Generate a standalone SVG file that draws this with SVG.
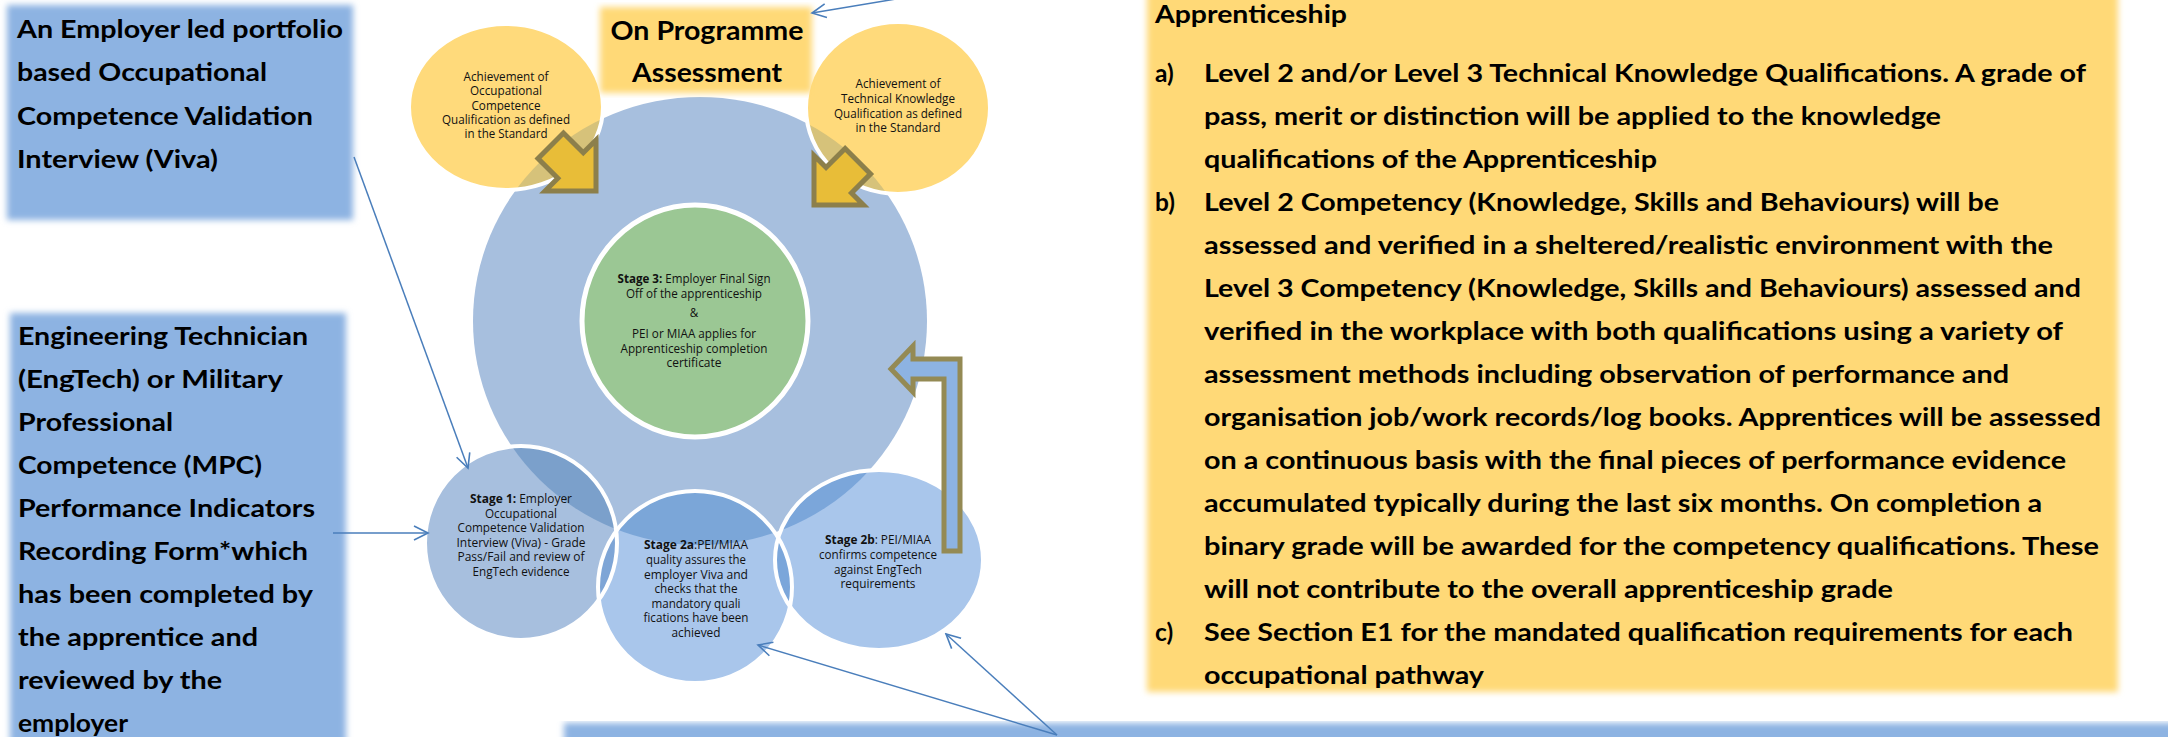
<svg xmlns="http://www.w3.org/2000/svg" width="2168" height="737" viewBox="0 0 2168 737">
<style>
  .big { font-family: Lato, 'Liberation Sans', sans-serif; font-weight: bold; font-size: 24.5px; fill: #000; }
  .title { font-family: Lato, 'Liberation Sans', sans-serif; font-weight: bold; font-size: 27px; fill: #000; text-anchor: middle; }
  .sm { font-family: 'Open Sans', 'Liberation Sans', sans-serif; font-size: 11.7px; fill: #111; text-anchor: middle; }
  .b { font-weight: bold; }
  .box { fill: #8DB3E2; filter: url(#soft); }
  .ybox { fill: #FFD977; filter: url(#soft); }
  .conn { stroke: #4A7EBB; stroke-width: 1.5; fill: none; marker-end: url(#arr); }
  .ring { fill: none; stroke: #fff; stroke-width: 4; }
  .gold { fill: #E8BD38; stroke: #8C7F4B; stroke-width: 5; stroke-linejoin: miter; }
</style>
<defs>
  <filter id="soft" x="-5%" y="-5%" width="110%" height="110%">
    <feGaussianBlur stdDeviation="3"/>
  </filter>
  <marker id="arr" markerUnits="userSpaceOnUse" markerWidth="18" markerHeight="18" viewBox="0 0 18 18" refX="16" refY="9" orient="auto">
    <path d="M2,2 L16,9 L2,16" fill="none" stroke="#4A7EBB" stroke-width="1.6"/>
  </marker>
  <clipPath id="cBig"><ellipse cx="700" cy="321" rx="227" ry="224"/></clipPath>
  <clipPath id="cS1"><ellipse cx="521" cy="543" rx="96" ry="97"/></clipPath>
  <clipPath id="cS2a"><ellipse cx="695" cy="587" rx="97" ry="96"/></clipPath>
</defs>

<rect width="2168" height="737" fill="#fff"/>

<!-- Left box 1 -->
<g id="box-viva">
  <rect class="box" x="7" y="5" width="346" height="215"/>
  <text class="big" x="17" y="37.5" textLength="326" lengthAdjust="spacingAndGlyphs">An Employer led portfolio</text>
  <text class="big" x="17" y="81" textLength="250" lengthAdjust="spacingAndGlyphs">based Occupational</text>
  <text class="big" x="17" y="124.5" textLength="296" lengthAdjust="spacingAndGlyphs">Competence Validation</text>
  <text class="big" x="17" y="168" textLength="201" lengthAdjust="spacingAndGlyphs">Interview (Viva)</text>
</g>

<!-- Left box 2 -->
<g id="box-engtech">
  <rect class="box" x="10" y="313" width="336" height="440"/>
  <text class="big" x="18" y="345" textLength="290" lengthAdjust="spacingAndGlyphs">Engineering Technician</text>
  <text class="big" x="18" y="388" textLength="265" lengthAdjust="spacingAndGlyphs">(EngTech) or Military</text>
  <text class="big" x="18" y="431" textLength="155" lengthAdjust="spacingAndGlyphs">Professional</text>
  <text class="big" x="18" y="474" textLength="244" lengthAdjust="spacingAndGlyphs">Competence (MPC)</text>
  <text class="big" x="18" y="517" textLength="297" lengthAdjust="spacingAndGlyphs">Performance Indicators</text>
  <text class="big" x="18" y="560" textLength="290" lengthAdjust="spacingAndGlyphs">Recording Form*which</text>
  <text class="big" x="18" y="603" textLength="295" lengthAdjust="spacingAndGlyphs">has been completed by</text>
  <text class="big" x="18" y="646" textLength="240" lengthAdjust="spacingAndGlyphs">the apprentice and</text>
  <text class="big" x="18" y="689" textLength="204" lengthAdjust="spacingAndGlyphs">reviewed by the</text>
  <text class="big" x="18" y="732" textLength="110" lengthAdjust="spacingAndGlyphs">employer</text>
</g>

<!-- Right panel -->
<g id="panel-apprenticeship">
  <rect class="ybox" x="1147" y="-20" width="971" height="712"/>
  <text class="big" x="1155" y="23" textLength="192" lengthAdjust="spacingAndGlyphs">Apprenticeship</text>
  <text class="big" x="1155" y="82">a)</text>
  <text class="big" x="1204" y="82" textLength="882" lengthAdjust="spacingAndGlyphs">Level 2 and/or Level 3 Technical Knowledge Qualifications. A grade of</text>
  <text class="big" x="1204" y="125" textLength="737" lengthAdjust="spacingAndGlyphs">pass, merit or distinction will be applied to the knowledge</text>
  <text class="big" x="1204" y="168" textLength="453" lengthAdjust="spacingAndGlyphs">qualifications of the Apprenticeship</text>
  <text class="big" x="1155" y="211">b)</text>
  <text class="big" x="1204" y="211" textLength="795" lengthAdjust="spacingAndGlyphs">Level 2 Competency (Knowledge, Skills and Behaviours) will be</text>
  <text class="big" x="1204" y="254" textLength="849" lengthAdjust="spacingAndGlyphs">assessed and verified in a sheltered/realistic environment with the</text>
  <text class="big" x="1204" y="297" textLength="877" lengthAdjust="spacingAndGlyphs">Level 3 Competency (Knowledge, Skills and Behaviours) assessed and</text>
  <text class="big" x="1204" y="340" textLength="859" lengthAdjust="spacingAndGlyphs">verified  in the workplace with both qualifications using a variety of</text>
  <text class="big" x="1204" y="383" textLength="805" lengthAdjust="spacingAndGlyphs">assessment methods including observation of performance and</text>
  <text class="big" x="1204" y="426" textLength="897" lengthAdjust="spacingAndGlyphs">organisation job/work records/log books. Apprentices will be assessed</text>
  <text class="big" x="1204" y="469" textLength="862" lengthAdjust="spacingAndGlyphs">on a continuous basis with the final pieces of performance evidence</text>
  <text class="big" x="1204" y="512" textLength="838" lengthAdjust="spacingAndGlyphs">accumulated typically during the last six months. On completion a</text>
  <text class="big" x="1204" y="555" textLength="895" lengthAdjust="spacingAndGlyphs">binary grade will be awarded for the competency qualifications. These</text>
  <text class="big" x="1204" y="598" textLength="689" lengthAdjust="spacingAndGlyphs">will not contribute to the overall apprenticeship grade</text>
  <text class="big" x="1155" y="641">c)</text>
  <text class="big" x="1204" y="641" textLength="869" lengthAdjust="spacingAndGlyphs">See Section E1 for the mandated qualification requirements for each</text>
  <text class="big" x="1204" y="684" textLength="280" lengthAdjust="spacingAndGlyphs">occupational pathway</text>
</g>

<!-- Bottom box -->
<g id="box-bottom">
  <rect class="box" x="564" y="723" width="1620" height="40"/>
</g>

<!-- Big circle -->
<g id="on-programme-circle">
  <ellipse cx="700" cy="321" rx="227" ry="224" fill="#A7BFDE"/>
</g>

<!-- Yellow circles -->
<g id="occ-competence">
  <ellipse cx="506" cy="107" rx="97" ry="83" fill="#FFDA7B"/>
  <ellipse cx="506" cy="107" rx="97" ry="83" fill="#D6C27A" clip-path="url(#cBig)"/>
  <ellipse cx="506" cy="107" rx="97" ry="83" class="ring"/>
  <text class="sm" x="506" y="81" textLength="85" lengthAdjust="spacingAndGlyphs">Achievement of</text>
  <text class="sm" x="506" y="95" textLength="72" lengthAdjust="spacingAndGlyphs">Occupational</text>
  <text class="sm" x="506" y="109.5" textLength="69" lengthAdjust="spacingAndGlyphs">Competence</text>
  <text class="sm" x="506" y="124" textLength="128" lengthAdjust="spacingAndGlyphs">Qualification as defined</text>
  <text class="sm" x="506" y="138" textLength="83" lengthAdjust="spacingAndGlyphs">in the Standard</text>
</g>
<g id="tech-knowledge">
  <ellipse cx="898" cy="108" rx="92" ry="86" fill="#FFDA7B"/>
  <ellipse cx="898" cy="108" rx="92" ry="86" fill="#D6C27A" clip-path="url(#cBig)"/>
  <ellipse cx="898" cy="108" rx="92" ry="86" class="ring"/>
  <text class="sm" x="898" y="88" textLength="85" lengthAdjust="spacingAndGlyphs">Achievement of</text>
  <text class="sm" x="898" y="103" textLength="114" lengthAdjust="spacingAndGlyphs">Technical Knowledge</text>
  <text class="sm" x="898" y="118" textLength="128" lengthAdjust="spacingAndGlyphs">Qualification as defined</text>
  <text class="sm" x="898" y="132" textLength="85" lengthAdjust="spacingAndGlyphs">in  the Standard</text>
</g>

<!-- On Programme Assessment title -->
<g id="title-on-programme">
  <rect class="ybox" x="600" y="7" width="212" height="86"/>
  <text class="title" x="707" y="40" textLength="193" lengthAdjust="spacingAndGlyphs">On Programme</text>
  <text class="title" x="707" y="82" textLength="150" lengthAdjust="spacingAndGlyphs">Assessment</text>
</g>

<!-- Stage 3 green -->
<g id="stage3">
  <ellipse cx="695" cy="321" rx="113" ry="116" fill="#9BC794" stroke="#fff" stroke-width="5"/>
  <text class="sm" x="694" y="283" textLength="153" lengthAdjust="spacingAndGlyphs"><tspan class="b">Stage 3:</tspan> Employer Final Sign</text>
  <text class="sm" x="694" y="298" textLength="136" lengthAdjust="spacingAndGlyphs">Off of the apprenticeship</text>
  <text class="sm" x="694" y="317">&amp;</text>
  <text class="sm" x="694" y="338" textLength="124" lengthAdjust="spacingAndGlyphs">PEI or MIAA applies for</text>
  <text class="sm" x="694" y="353" textLength="147" lengthAdjust="spacingAndGlyphs">Apprenticeship completion</text>
  <text class="sm" x="694" y="367" textLength="55" lengthAdjust="spacingAndGlyphs">certificate</text>
</g>

<!-- Stage circles -->
<g id="stage1">
  <ellipse cx="521" cy="543" rx="96" ry="97" fill="#A7BFDE"/>
  <ellipse cx="521" cy="543" rx="96" ry="97" fill="#7BA0CB" clip-path="url(#cBig)"/>
</g>
<g id="stage2a">
  <ellipse cx="695" cy="587" rx="97" ry="96" fill="#A9C6EB"/>
  <ellipse cx="695" cy="587" rx="97" ry="96" fill="#7BA6D8" clip-path="url(#cBig)"/>
  <ellipse cx="695" cy="587" rx="97" ry="96" fill="#7EA5D6" clip-path="url(#cS1)"/>
</g>
<g id="stage2b">
  <ellipse cx="879" cy="560" rx="104" ry="90" fill="#A9C6EB"/>
  <ellipse cx="879" cy="560" rx="104" ry="90" fill="#7BA6DA" clip-path="url(#cBig)"/>
  <ellipse cx="879" cy="560" rx="104" ry="90" fill="#7BA6DA" clip-path="url(#cS2a)"/>
</g>
<g id="stage-rings">
  <ellipse cx="521" cy="543" rx="96" ry="97" class="ring"/>
  <ellipse cx="695" cy="587" rx="97" ry="96" class="ring"/>
  <ellipse cx="879" cy="560" rx="104" ry="90" class="ring"/>
</g>
<g id="stage-texts">
  <text class="sm" x="521" y="503" textLength="102" lengthAdjust="spacingAndGlyphs"><tspan class="b">Stage 1:</tspan>  Employer</text>
  <text class="sm" x="521" y="517.5" textLength="72" lengthAdjust="spacingAndGlyphs">Occupational</text>
  <text class="sm" x="521" y="532" textLength="127" lengthAdjust="spacingAndGlyphs">Competence Validation</text>
  <text class="sm" x="521" y="546.5" textLength="129" lengthAdjust="spacingAndGlyphs">Interview (Viva) - Grade</text>
  <text class="sm" x="521" y="561" textLength="127" lengthAdjust="spacingAndGlyphs">Pass/Fail  and review of</text>
  <text class="sm" x="521" y="575.5" textLength="97" lengthAdjust="spacingAndGlyphs">EngTech evidence</text>

  <text class="sm" x="696" y="549" textLength="104" lengthAdjust="spacingAndGlyphs"><tspan class="b">Stage 2a</tspan>:PEI/MIAA</text>
  <text class="sm" x="696" y="564" textLength="100" lengthAdjust="spacingAndGlyphs">quality assures the</text>
  <text class="sm" x="696" y="578.5" textLength="104" lengthAdjust="spacingAndGlyphs">employer  Viva and</text>
  <text class="sm" x="696" y="593" textLength="83" lengthAdjust="spacingAndGlyphs">checks that the</text>
  <text class="sm" x="696" y="607.5" textLength="89" lengthAdjust="spacingAndGlyphs">mandatory quali</text>
  <text class="sm" x="696" y="622" textLength="105" lengthAdjust="spacingAndGlyphs">fications have been</text>
  <text class="sm" x="696" y="637" textLength="49" lengthAdjust="spacingAndGlyphs">achieved</text>

  <text class="sm" x="878" y="544" textLength="106" lengthAdjust="spacingAndGlyphs"><tspan class="b">Stage 2b</tspan>: PEI/MIAA</text>
  <text class="sm" x="878" y="559" textLength="118" lengthAdjust="spacingAndGlyphs">confirms competence</text>
  <text class="sm" x="878" y="573.5" textLength="88" lengthAdjust="spacingAndGlyphs">against EngTech</text>
  <text class="sm" x="878" y="588" textLength="75" lengthAdjust="spacingAndGlyphs">requirements</text>
</g>

<!-- Gold block arrows -->
<g id="arrow-occ">
  <path class="gold" transform="translate(596,191) rotate(45)" d="M0,0 L-36,-36 L-36,-18 L-64,-18 L-64,18 L-36,18 L-36,36 Z"/>
</g>
<g id="arrow-tech">
  <path class="gold" transform="translate(814,205) rotate(135)" d="M0,0 L-35,-35 L-35,-18 L-62,-18 L-62,18 L-35,18 L-35,35 Z"/>
</g>

<!-- Bent arrow from stage 2b to stage 3 -->
<g id="arrow-bent">
  <path d="M891,369 L913,346 L913,359 L960,359 L960,551 L944,551 L944,379 L913,379 L913,392 Z" fill="#8DB3E2" stroke="#948A54" stroke-width="5"/>
</g>

<!-- Connectors -->
<g id="connectors">
  <line class="conn" x1="354" y1="157" x2="468" y2="468"/>
  <line class="conn" x1="333" y1="533" x2="428" y2="533"/>
  <line class="conn" x1="1057" y1="735" x2="758" y2="645"/>
  <line class="conn" x1="1057" y1="735" x2="946" y2="634"/>
  <line class="conn" x1="896" y1="-1" x2="812" y2="13"/>
</g>
</svg>
